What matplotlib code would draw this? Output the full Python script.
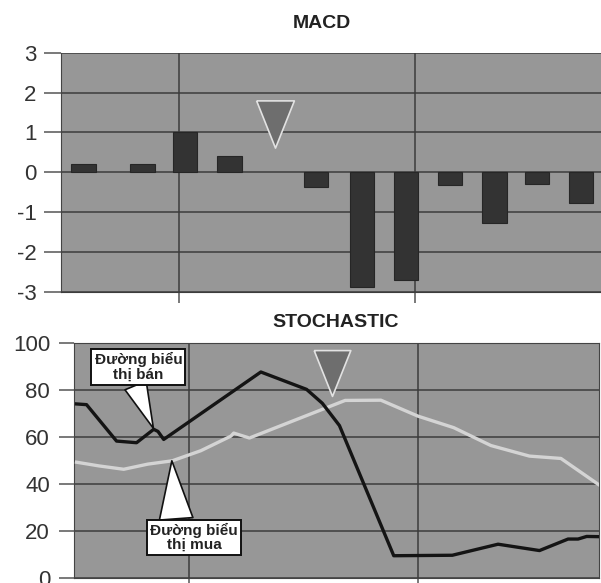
import numpy as np
import matplotlib
matplotlib.use("Agg")
import matplotlib.pyplot as plt

plt.rcParams['font.family'] = ['Liberation Sans', 'DejaVu Sans']
plt.rcParams['axes.unicode_minus'] = False

# MACD histogram (x in trading days)
macd_day = [1.5, 5.5, 8.4, 11.4, 17.3, 20.4, 23.4, 26.4, 29.4, 32.3, 35.3]
macd_val = [0.21, 0.21, 1.02, 0.40, -0.36, -2.89, -2.70, -0.32, -1.28, -0.29, -0.77]
macd_ticks = [-3, -2, -1, 0, 1, 2, 3]

# Stochastic lines
sell_day = [0.1, 0.8, 2.9, 4.3, 5.5, 5.8, 6.2, 13.0, 16.2, 17.3, 18.5, 22.3, 26.4, 29.6, 32.5, 34.5, 35.2, 35.8, 36.8]
sell_val = [74.2, 73.9, 58.4, 57.7, 63.4, 62.5, 59.1, 87.8, 80.4, 74.5, 65.0, 9.6, 9.8, 14.5, 11.8, 16.7, 16.7, 17.8, 17.7]
buy_day = [0.1, 1.7, 3.4, 5.1, 6.8, 8.8, 10.9, 11.1, 12.2, 18.9, 21.4, 24.0, 26.5, 29.1, 31.8, 34.0, 36.8]
buy_val = [49.4, 47.8, 46.4, 48.6, 50.0, 54.3, 60.5, 61.8, 59.7, 75.7, 75.8, 69.0, 64.1, 56.5, 52.0, 51.0, 39.2]
stoch_ticks = [0, 20, 40, 60, 80, 100]

# signal markers
macd_signal = (14.5, 1.2)
stoch_signal = (18.0, 87.2)

grid_days = [8, 24]

bg = '#979797'
grid_c = '#3c3c3c'
tri = [(-0.4, 0.5), (0.4, 0.5), (0.0, -0.5), (-0.4, 0.5)]

fig = plt.figure(figsize=(6.01, 5.83), dpi=100)

# ---- MACD ----
ax1 = fig.add_axes([0.1023, 0.4997, 0.8993, 0.4099])
ax1.set_facecolor(bg)
ax1.bar(macd_day, macd_val, width=1.65, color='#333333', edgecolor='#262626', linewidth=0.8, zorder=3)
ax1.set_xlim(0, 36.7)
ax1.set_ylim(-3, 3)
ax1.set_yticks(macd_ticks)
ax1.set_xticks(grid_days)
ax1.set_xticklabels([])
for y in macd_ticks:
    ax1.axhline(y, color=grid_c, lw=1.1, zorder=1)
for d in grid_days:
    ax1.axvline(d, color=grid_c, lw=1.1, zorder=1)
ax1.plot(*macd_signal, marker=tri, markersize=34, color='#6e6e6e',
         markeredgecolor='#e2e2e2', markeredgewidth=1.2, zorder=4)
ax1.tick_params(axis='y', length=12, width=1.1, color='#555555', pad=6,
                labelsize=16, labelcolor='#333333')
ax1.tick_params(axis='x', length=8, width=1.1, color='#555555')
for s in ['top', 'right']:
    ax1.spines[s].set_visible(False)
ax1.spines['left'].set_color('#444444')
ax1.spines['bottom'].set_color(grid_c)
fig.text(0.536, 1 - 23.7 / 583, 'MACD', ha='center', va='center',
         fontsize=14, fontweight='bold', color='#222222')

# ---- STOCHASTIC ----
ax2 = fig.add_axes([0.1226, 0.0081, 0.8749, 0.403])
ax2.set_facecolor(bg)
ax2.set_xlim(-0.1, 36.7)
ax2.set_ylim(0, 100)
ax2.set_yticks(stoch_ticks)
ax2.set_xticks(grid_days)
ax2.set_xticklabels([])
for y in stoch_ticks:
    ax2.axhline(y, color=grid_c, lw=1.1, zorder=1)
for d in grid_days:
    ax2.axvline(d, color=grid_c, lw=1.1, zorder=1)
ax2.plot(buy_day, buy_val, color='#d4d4d4', lw=2.4, zorder=3)
ax2.plot(sell_day, sell_val, color='#141414', lw=2.4, zorder=4)
ax2.plot(*stoch_signal, marker=tri, markersize=33, color='#6e6e6e',
         markeredgecolor='#e2e2e2', markeredgewidth=1.2, zorder=5)
ax2.tick_params(axis='y', length=11, width=1.1, color='#555555', pad=6,
                labelsize=16, labelcolor='#333333')
ax2.tick_params(axis='x', length=8, width=1.1, color='#555555')
for s in ax2.spines.values():
    s.set_color('#444444')

box = dict(boxstyle='square,pad=0.2', fc='white', ec='#111111', lw=1.4)
ax2.annotate('Đường biểu\nthị bán', xy=(5.48, 63.8), xytext=(4.43, 90.0),
             ha='center', va='center', fontsize=11, fontweight='bold',
             linespacing=1.05, color='#222222', bbox=box, zorder=6,
             arrowprops=dict(arrowstyle='wedge,tail_width=1.5,shrink_factor=0.5',
                             fc='white', ec='#111111', lw=1.2,
                             relpos=(0.45, 0.0), shrinkA=0, shrinkB=0))
ax2.annotate('Đường biểu\nthị mua', xy=(6.77, 50.0), xytext=(8.32, 17.4),
             ha='center', va='center', fontsize=11, fontweight='bold',
             linespacing=1.05, color='#222222', bbox=box, zorder=6,
             arrowprops=dict(arrowstyle='wedge,tail_width=2.2,shrink_factor=0.5',
                             fc='white', ec='#111111', lw=1.2,
                             relpos=(0.3, 1.0), shrinkA=0, shrinkB=0))
fig.text(336 / 601, 1 - 322.5 / 583, 'STOCHASTIC', ha='center', va='center',
         fontsize=14, fontweight='bold', color='#222222')

fig.savefig('out.png', dpi=100)
